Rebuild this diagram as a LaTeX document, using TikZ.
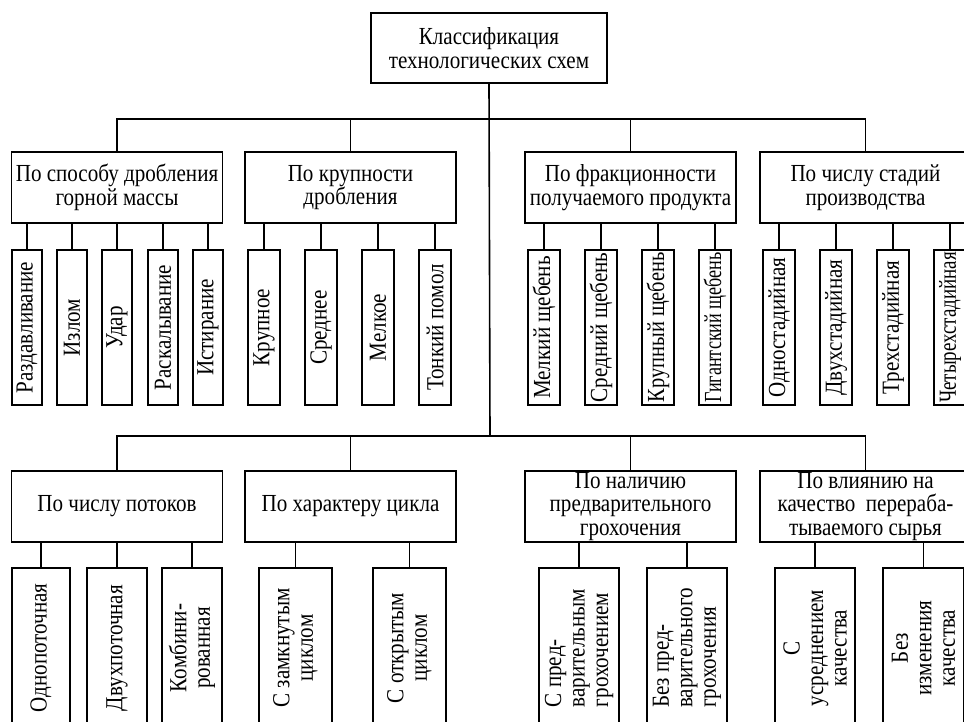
\documentclass[tikz,border=0pt]{standalone}
\usepackage{fontspec}
\setmainfont{Liberation Serif}[FakeStretch=0.86]
\newcommand\mysq[2]{\scalebox{#1}[1]{#2}}
\begin{document}
\begin{tikzpicture}[x=1pt,y=-1pt,
  every node/.style={inner sep=0pt, outer sep=0pt},
  box/.style={draw, line width=1.6pt, rectangle, align=center,
    font=\fontsize{24.5}{23.5}\selectfont},
  grp/.style={box, minimum width=211pt, minimum height=71pt},
  lf/.style={draw, line width=1.6pt, rectangle},
  rtxt/.style={rotate=90, align=center, font=\fontsize{24.5}{23.5}\selectfont},
  ln/.style={line width=1.6pt}
]
\useasboundingbox (0,0) rectangle (964,722);
\clip (0,0) rectangle (964,722);
\fill[white] (0,0) rectangle (964,722);

% root
\node[box, minimum width=236pt, minimum height=70pt] (root) at (489,48)
  {Классификация\\технологических схем};
\coordinate (bus1) at (490,119);
\coordinate (bus2) at (490,436);

% row 1 groups
\node[grp] (g1) at (117,187.5) {По способу дробления\\горной массы};
\node[grp] (g2) at (350.5,187.5) {По крупности\\дробления};
\node[grp] (g3) at (630.5,187.5) {По фракционности\\получаемого продукта};
\node[grp] (g4) at (865.5,187.5) {По числу стадий\\производства};

% row 2 groups
\node[grp] (g5) at (117,506.5) {По числу потоков};
\node[grp] (g6) at (350.5,506.5) {По характеру цикла};
\node[grp] (g7) at (630.5,506.5) {По наличию\\предварительного\\грохочения};
\node[grp] (g8) at (865.5,506.5) {По влиянию на\\качество\ \ перераба-\\тываемого сырья};

% trunk and buses
\draw[ln] (root.south) -- (bus2);
\draw[ln] (g1.north) |- (bus1) -| (g4.north);
\draw[ln] (g2.north) -- (g2.north |- bus1);
\draw[ln] (g3.north) -- (g3.north |- bus1);
\draw[ln] (g5.north) |- (bus2) -| (g8.north);
\draw[ln] (g6.north) -- (g6.north |- bus2);
\draw[ln] (g7.north) -- (g7.north |- bus2);

% leaf macro: name, parent, x, y, w, h, text, align
\newcommand\myleaf[8]{%
  \node[lf, minimum width=#5pt, minimum height=#6pt] (#1) at (#3,#4) {};
  \node[rtxt, align=#8] (#1t) at (#1.center) {#7};
  \draw[ln] (#1.north) -- (#1.north |- #2.south);
}

% row 1 leaves
\myleaf{a1}{g1}{27}{327.5}{30}{155}{Раздавливание}{center}
\myleaf{a2}{g1}{72}{327.5}{30}{155}{Излом}{center}
\myleaf{a3}{g1}{117}{327.5}{30}{155}{Удар}{center}
\myleaf{a4}{g1}{163}{327.5}{30}{155}{Раскалывание}{center}
\myleaf{a5}{g1}{208}{327.5}{30}{155}{Истирание}{center}

\myleaf{b1}{g2}{264}{327.5}{32}{155}{Крупное}{center}
\myleaf{b2}{g2}{321}{327.5}{32}{155}{Среднее}{center}
\myleaf{b3}{g2}{378}{327.5}{32}{155}{Мелкое}{center}
\myleaf{b4}{g2}{435}{327.5}{32}{155}{Тонкий помол}{center}

\myleaf{c1}{g3}{544}{327.5}{32}{155}{Мелкий щебень}{center}
\myleaf{c2}{g3}{601}{327.5}{32}{155}{Средний щебень}{center}
\myleaf{c3}{g3}{658}{327.5}{32}{155}{\mysq{0.97}{Крупный щебень}}{center}
\myleaf{c4}{g3}{715}{327.5}{32}{155}{\mysq{0.86}{Гигантский щебень}}{center}

\myleaf{d1}{g4}{779}{327.5}{32}{155}{Одностадийная}{center}
\myleaf{d2}{g4}{836}{327.5}{32}{155}{Двухстадийная}{center}
\myleaf{d3}{g4}{893}{327.5}{32}{155}{Трехстадийная}{center}
\myleaf{d4}{g4}{950}{327.5}{32}{155}{\mysq{0.9}{Четырехстадийная}}{center}

% row 2 leaves
\myleaf{e1}{g5}{41}{648}{58}{160}{Однопоточная}{center}
\myleaf{e2}{g5}{117}{648}{60}{160}{Двухпоточная}{center}
\myleaf{e3}{g5}{192}{648}{60}{160}{Комбини-\\рованная}{center}

\myleaf{f1}{g6}{295.5}{648}{73}{160}{С замкнутым\\циклом}{center}
\myleaf{f2}{g6}{409.5}{648}{73}{160}{С открытым\\циклом}{center}

\myleaf{h1}{g7}{579}{648}{80}{160}{С пред-\\варительным\\грохочением}{left}
\myleaf{h2}{g7}{687}{648}{80}{160}{Без пред-\\варительного\\грохочения}{left}

\myleaf{k1}{g8}{815}{648}{80}{160}{С\\усреднением\\качества}{center}
\myleaf{k2}{g8}{923.5}{648}{81}{160}{Без\\изменения\\качества}{center}
\end{tikzpicture}
\end{document}
